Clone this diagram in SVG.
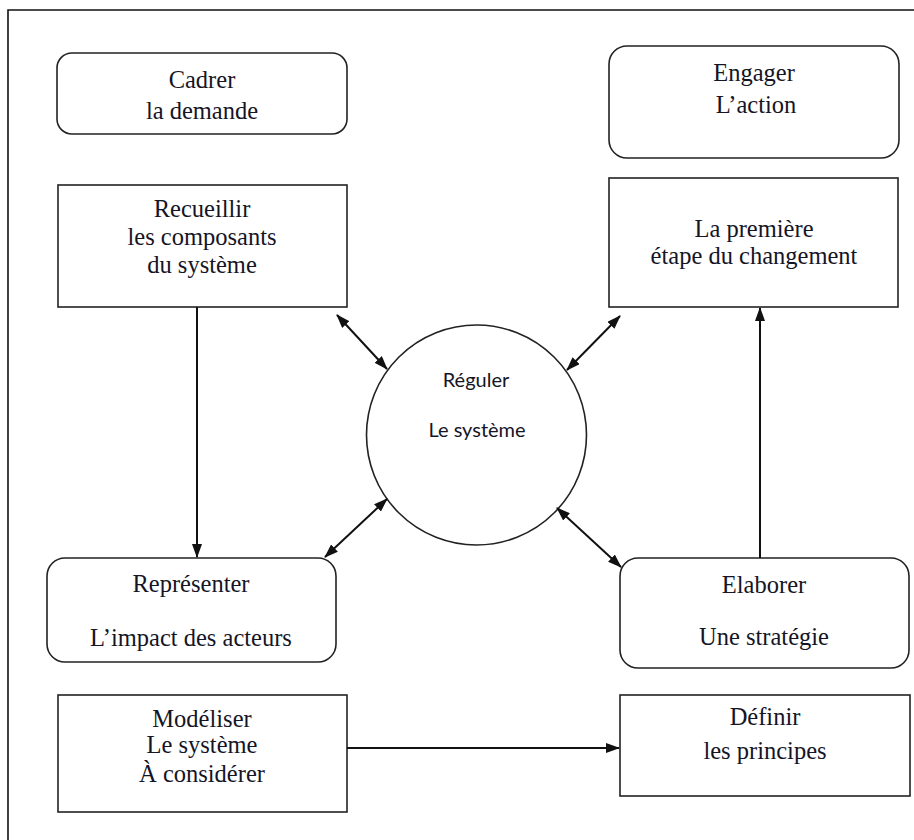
<svg xmlns="http://www.w3.org/2000/svg" width="914" height="840" viewBox="0 0 914 840">
<style>
.bx{fill:#fff;stroke:#222;stroke-width:1.6}
.t{font-size:24.5px;fill:#151525;text-anchor:middle}
.s{font-size:20px;fill:#151525;text-anchor:middle}
.c{stroke:#111;stroke-width:2;fill:none}
</style>
<defs>
<marker id="ah" markerWidth="14" markerHeight="10" refX="13" refY="5" orient="auto-start-reverse" markerUnits="userSpaceOnUse">
<path d="M0,0 L14,5 L0,10 Z" fill="#111"/>
</marker>
</defs>
<rect width="914" height="840" fill="#fff"/>
<path d="M8,840 V10 H914" fill="none" stroke="#111" stroke-width="1.6"/>

<g font-family="'Liberation Serif', 'Times New Roman', 'DejaVu Serif', serif">
<g id="cadrer">
<rect class="bx" x="57" y="53" width="290" height="81" rx="15"/>
<text class="t" x="202" y="88">Cadrer</text>
<text class="t" x="202" y="119">la demande</text>
</g>
<g id="engager">
<rect class="bx" x="609" y="46" width="290" height="112" rx="18"/>
<text class="t" x="754" y="81">Engager</text>
<text class="t" x="756" y="113">L’action</text>
</g>
<g id="recueillir">
<rect class="bx" x="58" y="185" width="289" height="122"/>
<text class="t" x="202" y="217">Recueillir</text>
<text class="t" x="202" y="245">les composants</text>
<text class="t" x="202" y="273">du système</text>
</g>
<g id="premiere">
<rect class="bx" x="609" y="178" width="289" height="129"/>
<text class="t" x="754" y="237">La première</text>
<text class="t" x="754" y="264">étape du changement</text>
</g>
<g id="representer">
<rect class="bx" x="47" y="558" width="289" height="104" rx="18"/>
<text class="t" x="191" y="592">Représenter</text>
<text class="t" x="191" y="646">L’impact des acteurs</text>
</g>
<g id="elaborer">
<rect class="bx" x="620" y="558" width="289" height="110" rx="18"/>
<text class="t" x="764" y="593">Elaborer</text>
<text class="t" x="764" y="645">Une stratégie</text>
</g>
<g id="modeliser">
<rect class="bx" x="58" y="695" width="289" height="117"/>
<text class="t" x="202" y="727">Modéliser</text>
<text class="t" x="202" y="753">Le système</text>
<text class="t" x="202" y="782">À considérer</text>
</g>
<g id="definir">
<rect class="bx" x="620" y="695" width="290" height="101"/>
<text class="t" x="765" y="725">Définir</text>
<text class="t" x="765" y="759">les principes</text>
</g>
</g>
<g id="reguler" font-family="Lato, 'Liberation Sans', sans-serif">
<circle class="bx" cx="476.5" cy="435" r="110"/>
<text class="s" x="476" y="387">Réguler</text>
<text class="s" x="477" y="437">Le système</text>
</g>

<g id="connectors">
<line class="c" x1="197" y1="307" x2="197" y2="557" marker-end="url(#ah)"/>
<line class="c" x1="760" y1="558" x2="760" y2="308" marker-end="url(#ah)"/>
<line class="c" x1="347" y1="748" x2="619" y2="748" marker-end="url(#ah)"/>
<line class="c" x1="337" y1="315" x2="387" y2="369" marker-start="url(#ah)" marker-end="url(#ah)"/>
<line class="c" x1="325" y1="557" x2="387" y2="499" marker-start="url(#ah)" marker-end="url(#ah)"/>
<line class="c" x1="620" y1="316" x2="567" y2="370" marker-start="url(#ah)" marker-end="url(#ah)"/>
<line class="c" x1="557" y1="508" x2="621" y2="567" marker-start="url(#ah)" marker-end="url(#ah)"/>
</g>
</svg>
